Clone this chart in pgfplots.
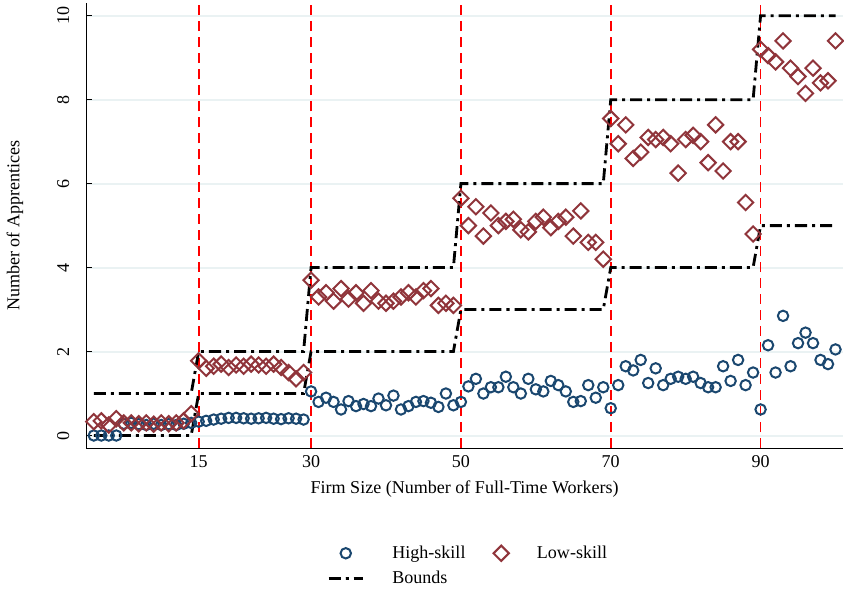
\documentclass[border=0pt]{standalone}
\usepackage{pgfplots}
\pgfplotsset{compat=1.18}
\usepackage{fontspec}
\setmainfont{Liberation Serif}
\definecolor{hs}{HTML}{1A476F}
\definecolor{ls}{HTML}{90353B}
\definecolor{gl}{HTML}{EAF2F3}
\begin{document}
\begin{tikzpicture}
\begin{axis}[
  scale only axis, width=377.5pt, height=222pt,
  xmin=0, xmax=101, ymin=-0.3, ymax=10.3,
  xtick={15,30,50,70,90}, ytick={0,2,...,10},
  /pgf/number format/assume math mode=true,
  yticklabel style={rotate=90, anchor=south, yshift=5pt},
  tick label style={font=\small},
  axis x line*=bottom, axis y line*=left,
  ymajorgrids, grid style={gl, line width=1pt},
  major tick length=3pt, tick style={black},
  xlabel={Firm Size (Number of Full-Time Workers)},
  ylabel={Number of Apprentices},
  ylabel style={yshift=10pt},
  label style={font=\small},
  legend style={draw=none, at={(0.506,-0.2)}, anchor=north, font=\small, column sep=12pt, row sep=1pt},
  legend columns=2, legend cell align=left,
  clip=false,
]
\pgfplotsset{vl/.style={red, line width=0.9pt, dash pattern=on 5pt off 3pt, forget plot}}
\addplot[vl] coordinates {(15,-0.3) (15,10.3)};
\addplot[vl] coordinates {(30,-0.3) (30,10.3)};
\addplot[vl] coordinates {(50,-0.3) (50,10.3)};
\addplot[vl] coordinates {(70,-0.3) (70,10.3)};
\addplot[vl] coordinates {(90,-0.3) (90,10.3)};
\addplot[only marks, mark=o, mark size=2.6pt, hs, line width=1pt] coordinates {
(1,0)(2,0)(3,0)(4,0)(5,0.28)(6,0.3)(7,0.27)(8,0.25)(9,0.28)(10,0.25)(11,0.27)(12,0.25)(13,0.28)(14,0.3)
(15,0.33)(16,0.35)(17,0.38)(18,0.4)(19,0.42)(20,0.42)(21,0.41)(22,0.4)(23,0.41)(24,0.42)(25,0.4)(26,0.39)(27,0.41)(28,0.4)(29,0.38)
(30,1.05)(31,0.8)(32,0.9)(33,0.8)(34,0.62)(35,0.82)(36,0.7)(37,0.75)(38,0.7)(39,0.88)(40,0.72)(41,0.95)(42,0.62)(43,0.7)(44,0.8)(45,0.82)(46,0.78)(47,0.68)(48,1.0)(49,0.72)
(50,0.8)(51,1.17)(52,1.35)(53,1.0)(54,1.15)(55,1.15)(56,1.4)(57,1.15)(58,1.0)(59,1.35)(60,1.1)(61,1.05)(62,1.3)(63,1.2)(64,1.05)(65,0.8)(66,0.82)(67,1.2)(68,0.9)(69,1.15)
(70,0.65)(71,1.2)(72,1.65)(73,1.55)(74,1.8)(75,1.25)(76,1.6)(77,1.2)(78,1.35)(79,1.4)(80,1.35)(81,1.4)(82,1.25)(83,1.15)(84,1.15)(85,1.65)(86,1.3)(87,1.8)(88,1.2)(89,1.5)
(90,0.62)(91,2.15)(92,1.5)(93,2.85)(94,1.65)(95,2.2)(96,2.45)(97,2.2)(98,1.8)(99,1.7)(100,2.05)
};
\addlegendentry{High-skill}
\addplot[only marks, mark=square, mark options={rotate=45}, mark size=2.7pt, ls, line width=1pt] coordinates {
(1,0.33)(2,0.35)(3,0.25)(4,0.4)(5,0.3)(6,0.3)(7,0.28)(8,0.3)(9,0.27)(10,0.3)(11,0.28)(12,0.3)(13,0.35)(14,0.52)
(15,1.78)(16,1.6)(17,1.65)(18,1.7)(19,1.62)(20,1.68)(21,1.65)(22,1.7)(23,1.68)(24,1.65)(25,1.7)(26,1.62)(27,1.5)(28,1.35)(29,1.5)
(30,3.7)(31,3.3)(32,3.4)(33,3.2)(34,3.5)(35,3.25)(36,3.4)(37,3.15)(38,3.45)(39,3.2)(40,3.15)(41,3.2)(42,3.3)(43,3.4)(44,3.3)(45,3.45)(46,3.5)(47,3.1)(48,3.15)(49,3.1)
(50,5.65)(51,5.0)(52,5.45)(53,4.75)(54,5.3)(55,5.0)(56,5.1)(57,5.15)(58,4.9)(59,4.85)(60,5.1)(61,5.2)(62,4.95)(63,5.1)(64,5.2)(65,4.75)(66,5.35)(67,4.6)(68,4.6)(69,4.2)
(70,7.55)(71,6.95)(72,7.4)(73,6.6)(74,6.75)(75,7.1)(76,7.05)(77,7.1)(78,6.95)(79,6.25)(80,7.05)(81,7.15)(82,7.0)(83,6.5)(84,7.4)(85,6.3)(86,7.0)(87,7.0)(88,5.55)(89,4.8)
(90,9.2)(91,9.05)(92,8.9)(93,9.4)(94,8.75)(95,8.55)(96,8.15)(97,8.75)(98,8.4)(99,8.45)(100,9.4)
};
\addlegendentry{Low-skill}
\pgfplotsset{bd/.style={black, line width=1.4pt, dash pattern=on 6pt off 2.5pt on 1.5pt off 2.5pt}}
\addplot[bd] coordinates {(1,1)(14,1)(15,2)(29,2)(30,4)(49,4)(50,6)(69,6)(70,8)(89,8)(90,10)(100,10)};
\addlegendentry{Bounds}
\addplot[bd, forget plot] coordinates {(1,0)(14,0)(15,1)(29,1)(30,2)(49,2)(50,3)(69,3)(70,4)(89,4)(90,5)(100,5)};
\end{axis}
\end{tikzpicture}
\end{document}
